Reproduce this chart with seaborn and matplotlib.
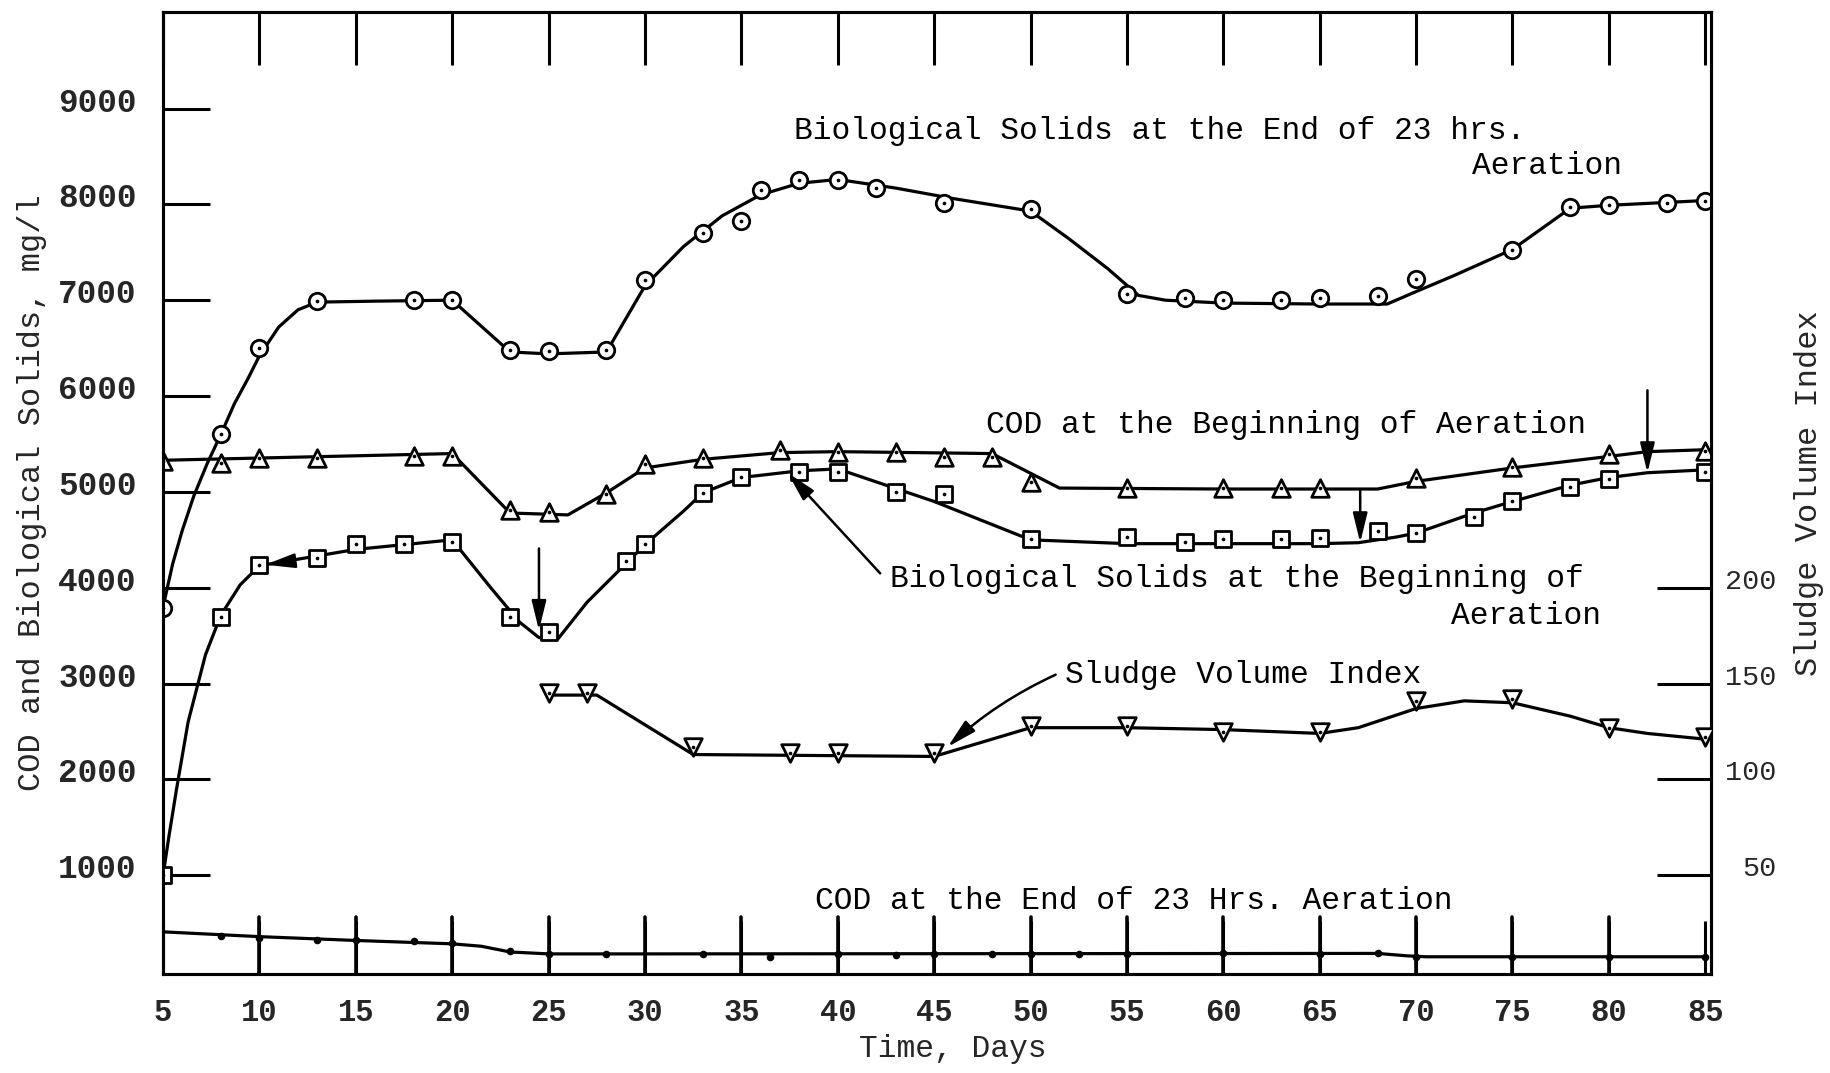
import matplotlib
matplotlib.use("Agg")
import matplotlib.pyplot as plt
import matplotlib.transforms as mtransforms
import seaborn as sns

# marker readings (days, mg/l) -- Biological Solids at the End of 23 hrs
bio_end_days = [5, 8, 10, 13, 18, 20, 23, 25, 28, 30, 33, 35, 36, 38, 40, 42, 45.5, 50,
                55, 58, 60, 63, 65, 68, 70, 75, 78, 80, 83, 85]
bio_end_vals = [3790, 5600, 6500, 6990, 7000, 7000, 6480, 6470, 6480, 7210, 7700, 7830, 8150, 8250,
                8250, 8170, 8010, 7950, 7060, 7020, 7000, 7000, 7020, 7040, 7220, 7520, 7970, 7990,
                8010, 8040]
# hand drawn curve through them
bio_end_line_days = [5, 5.5, 6, 6.6, 7.3, 8, 8.7, 9.4, 10, 11, 12, 13, 16, 20, 23, 25, 28, 30, 32,
                     34, 36, 38, 40, 43, 46, 50, 52, 54, 55.6, 57, 60, 65, 68.5, 70, 72, 75, 78,
                     80, 85]
bio_end_line_vals = [3800, 4250, 4600, 4960, 5300, 5600, 5920, 6180, 6420, 6720, 6900, 6980, 6990,
                     7000, 6460, 6440, 6460, 7150, 7560, 7880, 8100, 8220, 8260, 8170, 8060, 7930,
                     7640, 7330, 7050, 7000, 6970, 6960, 6960, 7090, 7260, 7530, 7960, 7990, 8040]

# COD at the Beginning of Aeration
cod_begin_days = [5, 8, 10, 13, 18, 20, 23, 25, 28, 30, 33, 37, 40, 43, 45.5, 48, 50, 55, 60, 63,
                  65, 70, 75, 80, 85]
cod_begin_vals = [5320, 5300, 5350, 5350, 5370, 5370, 4810, 4790, 4980, 5290, 5350, 5440, 5420,
                  5420, 5360, 5360, 5100, 5040, 5040, 5040, 5040, 5150, 5260, 5400, 5430]
cod_begin_line_days = [5, 20, 23, 26, 28, 30, 33, 37, 40, 48, 51.5, 60, 68, 70, 75, 80, 82, 85]
cod_begin_line_vals = [5330, 5400, 4780, 4760, 4990, 5250, 5340, 5410, 5420, 5400, 5040, 5030,
                       5030, 5110, 5250, 5370, 5420, 5440]

# Biological Solids at the Beginning of Aeration
bio_begin_days = [5, 8, 10, 13, 15, 17.5, 20, 23, 25, 29, 30, 33, 35, 38, 40, 43, 45.5, 50, 55,
                  58, 60, 63, 65, 68, 70, 73, 75, 78, 80, 85]
bio_begin_vals = [1000, 3700, 4240, 4310, 4460, 4460, 4480, 3690, 3540, 4280, 4460, 4990, 5160,
                  5210, 5210, 5000, 4980, 4510, 4530, 4480, 4510, 4510, 4520, 4590, 4570, 4740,
                  4910, 5050, 5130, 5210]
bio_begin_line_days = [5, 5.3, 5.7, 6.3, 7.2, 8, 9, 10, 15, 20, 22, 23.5, 24.5, 25.5, 27, 29, 30,
                       32, 33, 35, 38, 40, 45, 50, 55, 60, 65, 67, 69, 70, 73, 75, 78, 80, 82, 85]
bio_begin_line_vals = [1000, 1400, 1900, 2600, 3300, 3714, 4030, 4230, 4400, 4500, 4000, 3640,
                       3480, 3470, 3850, 4250, 4450, 4800, 4990, 5150, 5220, 5240, 4900, 4500,
                       4460, 4460, 4460, 4470, 4530, 4570, 4780, 4900, 5070, 5150, 5200, 5230]

# Sludge Volume Index (right axis)
svi_days = [25, 27, 32.5, 37.5, 40, 45, 50, 55, 60, 65, 70, 75, 80, 85]
svi_vals = [145, 145, 117, 114, 114, 114, 128, 128, 125, 125, 141, 142, 127, 122]
svi_line_days = [25, 27.5, 32.5, 45, 50, 55, 60, 65, 67, 70, 72.5, 75, 78, 80, 82, 85]
svi_line_vals = [144, 144, 113, 112, 127, 127, 126, 124, 127, 137, 141, 140, 133, 127, 124, 121]

# COD at the End of 23 Hrs. Aeration
cod_end_days = [8, 10, 13, 15, 18, 20, 23, 25, 28, 33, 36.5, 40, 43, 45, 48, 50, 52.5, 55, 60, 65,
                68, 70, 75, 80, 85]
cod_end_vals = [370, 350, 330, 320, 310, 290, 210, 180, 180, 175, 150, 180, 170, 180, 180, 180, 180,
                180, 185, 180, 185, 150, 150, 150, 150]
cod_end_line_days = [5, 10, 15, 20, 21.5, 23, 25, 30, 68, 69.5, 70.5, 85]
cod_end_line_vals = [410, 360, 320, 285, 260, 200, 180, 180, 185, 160, 150, 150]

x_ticks = list(range(5, 90, 5))
left_ticks = [1000, 2000, 3000, 4000, 5000, 6000, 7000, 8000, 9000]
right_ticks = [50, 100, 150, 200]

sns.set_style("white")
plt.rcParams["font.family"] = ["Liberation Mono", "DejaVu Sans"]

fig = plt.figure(figsize=(18.3, 10.73), dpi=100)
ax = fig.add_axes([0.0891, 0.0918, 0.8459, 0.8973])
ax2 = ax.twinx()


def draw_curve(axis, days, vals):
    sns.lineplot(x=days, y=vals, ax=axis, color="black", lw=2.3, sort=False, estimator=None)


def draw_points(axis, days, vals, marker, size):
    sns.scatterplot(x=days, y=vals, ax=axis, marker=marker, s=size, facecolor="white",
                    edgecolor="black", linewidth=2, zorder=3)
    sns.scatterplot(x=days, y=vals, ax=axis, marker="o", s=7, color="black", linewidth=0, zorder=4)


draw_curve(ax, bio_end_line_days, bio_end_line_vals)
draw_points(ax, bio_end_days, bio_end_vals, "o", 140)
draw_curve(ax, cod_begin_line_days, cod_begin_line_vals)
draw_points(ax, cod_begin_days, cod_begin_vals, "^", 160)
draw_curve(ax, bio_begin_line_days, bio_begin_line_vals)
draw_points(ax, bio_begin_days, bio_begin_vals, "s", 120)
draw_curve(ax, cod_end_line_days, cod_end_line_vals)
sns.scatterplot(x=cod_end_days, y=cod_end_vals, ax=ax, marker="o", s=30, color="black",
                linewidth=0, zorder=4)

draw_curve(ax2, svi_line_days, svi_line_vals)
draw_points(ax2, svi_days, svi_vals, "v", 160)

# axes ranges: SVI axis is COD axis / 20
ax.set_xlim(5.0, 85.3)
ax.set_ylim(-35, 10010)
ax2.set_ylim(-35 / 20, 10010 / 20)

ax.set_xticks(x_ticks)
ax.set_yticks(left_ticks)
ax2.set_yticks(right_ticks)
ax.tick_params(axis="x", direction="in", top=True, bottom=True, length=38, width=2.2,
               pad=17, labelsize=22, color="black")
ax.tick_params(axis="y", direction="in", left=True, right=False, length=34, width=2.2,
               pad=19, labelsize=23.5, color="black")
ax2.tick_params(axis="y", direction="in", right=True, length=39, width=2.2, pad=47,
                labelsize=20.5, color="black")
# inward ticks rising from the bottom axis (drawn on the top axes so they show)
for xt in x_ticks[1:-1]:
    ax2.plot([xt, xt], [-35 / 20, 28], color="black", lw=2.6, zorder=10)
for lab in ax.get_xticklabels() + ax.get_yticklabels():
    lab.set_fontweight("bold")
shift = mtransforms.ScaledTranslation(0, 0.09, fig.dpi_scale_trans)
for lab in ax.get_yticklabels():
    lab.set_transform(lab.get_transform() + shift)
for lab in ax2.get_yticklabels():
    lab.set_horizontalalignment("right")
    lab.set_transform(lab.get_transform() + shift)

for a in (ax, ax2):
    for sp in a.spines.values():
        sp.set_linewidth(2.2)
        sp.set_color("black")

ax.set_xlabel("Time, Days", fontsize=22.5, labelpad=4)
ax.xaxis.label.set_x(0.51)
ax.set_ylabel("COD and Biological Solids, mg/l", fontsize=23, labelpad=8)
ax2.set_ylabel("Sludge Volume Index", fontsize=23, labelpad=13)

txt = dict(fontsize=22.5, color="black", va="center")
ax.text(37.75, 8770, "Biological Solids at the End of 23 hrs.", ha="left", **txt)
ax.text(80.7, 8400, "Aeration", ha="right", **txt)
ax.text(47.7, 5700, "COD at the Beginning of Aeration", ha="left", **txt)
ax.text(42.7, 4093, "Biological Solids at the Beginning of", ha="left", **txt)
ax.text(79.6, 3703, "Aeration", ha="right", **txt)
ax.text(51.8, 3094, "Sludge Volume Index", ha="left", **txt)
ax.text(38.8, 732, "COD at the End of 23 Hrs. Aeration", ha="left", **txt)

head = dict(arrowstyle="-|>,head_length=0.9,head_width=0.22", color="black", lw=1.8,
            mutation_scale=20, shrinkA=0, shrinkB=0)
ax.annotate("", xy=(24.5, 3555), xytext=(24.5, 4410), arrowprops=head)
ax.annotate("", xy=(67.1, 4470), xytext=(67.1, 5010), arrowprops=head)
ax.annotate("", xy=(82.0, 5200), xytext=(82.0, 6060), arrowprops=head)
ax.annotate("", xy=(37.4, 5200), xytext=(42.2, 4150), arrowprops=head)
ax.annotate("", xy=(45.7, 2339), xytext=(51.3, 3093),
            arrowprops=dict(head, connectionstyle="arc3,rad=0.08"))
ax.annotate("", xy=(10.3, 4240), xytext=(11.6, 4275), arrowprops=head)

fig.savefig("out.png", dpi=100)
